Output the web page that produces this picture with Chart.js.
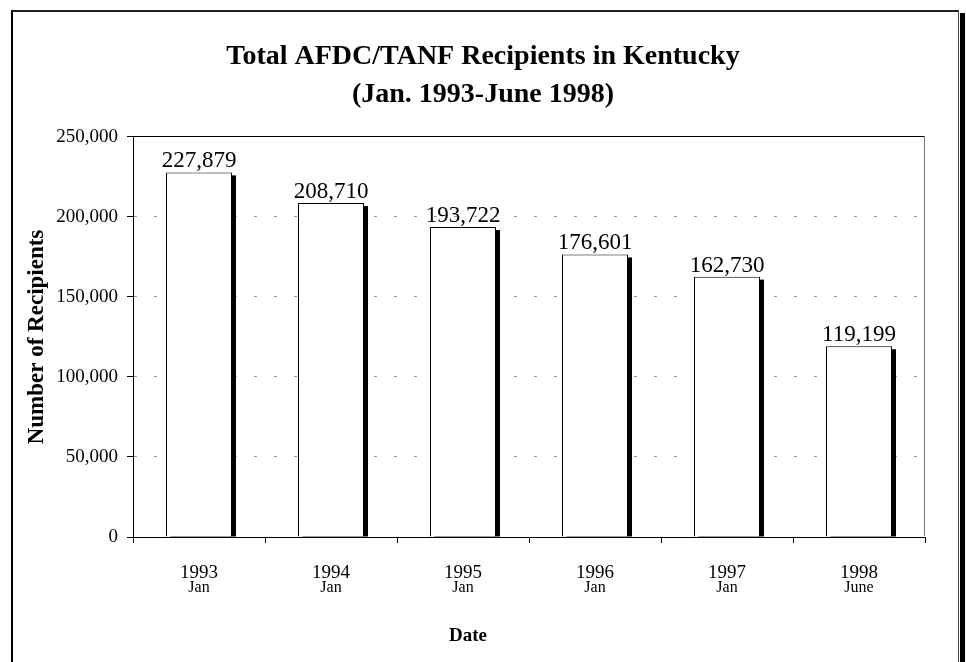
<!DOCTYPE html>
<html><head><meta charset="utf-8">
<script src="https://cdn.jsdelivr.net/npm/chart.js@4.4.0/dist/chart.umd.min.js"></script>
<style>html,body{margin:0;padding:0;background:#fff;overflow:hidden}#wrap{width:966px;height:662px;position:relative}</style>
</head><body><div id="wrap"><canvas id="c" width="966" height="662"></canvas></div>
<script>
const years = ['1993', '1994', '1995', '1996', '1997', '1998'];
const months = ['Jan', 'Jan', 'Jan', 'Jan', 'Jan', 'June'];
const recipients = [227879, 208710, 193722, 176601, 162730, 119199];
const yMin = 0;
const yMax = 250000;
const yStep = 50000;
const titleLines = ['Total AFDC/TANF Recipients in Kentucky', '(Jan. 1993-June 1998)'];
const yTitle = 'Number of Recipients';
const xTitle = 'Date';

const SERIF = "'Liberation Serif', 'Times New Roman', serif";
const fmt = v => Number(v).toLocaleString('en-US');

const framePlugin = {
  id: 'frame',
  beforeDraw(chart) {
    const ctx = chart.ctx;
    ctx.save();
    ctx.fillStyle = '#fff';
    ctx.fillRect(0, 0, chart.width, chart.height);
    ctx.fillStyle = '#222';
    ctx.fillRect(12, 10, 947, 2);
    ctx.fillStyle = '#000';
    ctx.fillRect(11, 10, 2, chart.height - 10);
    ctx.fillStyle = '#444';
    ctx.fillRect(958, 10, 1, chart.height - 10);
    ctx.fillStyle = '#000';
    ctx.fillRect(960, 13, 5, chart.height - 13);
    ctx.restore();
  }
};

const shadowPlugin = {
  id: 'barShadow',
  beforeDatasetsDraw(chart) {
    const ctx = chart.ctx;
    const meta = chart.getDatasetMeta(0);
    ctx.save();
    ctx.fillStyle = '#000';
    meta.data.forEach(bar => {
      const p = bar.getProps(['x', 'y', 'base', 'width'], true);
      ctx.fillRect(p.x - p.width / 2 + 4, p.y + 3, p.width, p.base - p.y - 3);
    });
    ctx.restore();
  }
};

const decorPlugin = {
  id: 'decor',
  afterDraw(chart) {
    const ctx = chart.ctx;
    const a = chart.chartArea;
    const xs = chart.scales.x;
    ctx.save();
    // plot box top / right
    ctx.fillStyle = '#000';
    ctx.fillRect(Math.floor(a.left), Math.floor(a.top), Math.round(a.right - a.left), 1);
    ctx.fillStyle = '#777';
    ctx.fillRect(Math.round(a.right) - 1, Math.floor(a.top), 1, Math.round(a.bottom - a.top));
    // data labels
    ctx.fillStyle = '#000';
    ctx.textAlign = 'center';
    ctx.textBaseline = 'alphabetic';
    ctx.font = '23px ' + SERIF;
    const meta = chart.getDatasetMeta(0);
    meta.data.forEach((bar, i) => {
      const p = bar.getProps(['x', 'y'], true);
      ctx.fillText(fmt(recipients[i]), p.x, p.y - 5);
    });
    // x tick labels (two lines)
    years.forEach((yr, i) => {
      const x = xs.getPixelForValue(i);
      ctx.font = '19px ' + SERIF;
      ctx.fillText(yr, x, a.bottom + 41);
      ctx.font = '16px ' + SERIF;
      ctx.fillText(months[i], x, a.bottom + 55);
    });
    // x axis title
    ctx.font = 'bold 19px ' + SERIF;
    ctx.textBaseline = 'middle';
    ctx.fillText(xTitle, a.left + 335, a.bottom + 99);
    ctx.restore();
  }
};

new Chart(document.getElementById('c'), {
  type: 'bar',
  data: {
    labels: years,
    datasets: [{
      data: recipients,
      backgroundColor: '#fff',
      borderColor: '#000',
      borderWidth: 1,
      barPercentage: 0.5,
      categoryPercentage: 1.0
    }]
  },
  options: {
    responsive: false,
    animation: false,
    devicePixelRatio: 1,
    layout: { padding: { left: 0, right: 0, top: 0, bottom: 0 } },
    plugins: {
      legend: { display: false },
      tooltip: { enabled: false },
      title: {
        display: true,
        text: titleLines,
        color: '#000',
        font: { family: SERIF, size: 28, weight: 'bold', lineHeight: 1.357 },
        padding: { top: 38, bottom: 23 }
      }
    },
    scales: {
      x: {
        z: 1,
        grid: { display: true, drawOnChartArea: false, drawTicks: true, tickLength: 6, color: '#000', tickColor: '#000', offset: true },
        border: { display: true, color: '#000', width: 1 },
        ticks: { display: false },
        afterFit(s) { s.height = 125; }
      },
      y: {
        min: yMin,
        max: yMax,
        ticks: {
          stepSize: yStep,
          color: '#000',
          font: { family: SERIF, size: 19 },
          padding: 9,
          callback: v => fmt(v)
        },
        grid: { color: '#9a9a9a', tickColor: '#000', tickLength: 6, tickBorderDash: [], lineWidth: 1 },
        border: { display: true, color: '#000', width: 1, dash: [3, 17] },
        title: {
          display: true,
          text: yTitle,
          color: '#000',
          font: { family: SERIF, size: 23, weight: 'bold' },
          padding: { top: 23, bottom: 0 }
        },
        afterFit(s) { s.width = 133; }
      },
      yR: {
        position: 'right',
        display: true,
        grid: { display: false },
        border: { display: false },
        ticks: { display: false },
        afterFit(s) { s.width = 41; }
      }
    }
  },
  plugins: [framePlugin, shadowPlugin, decorPlugin]
});
</script>
</body></html>
